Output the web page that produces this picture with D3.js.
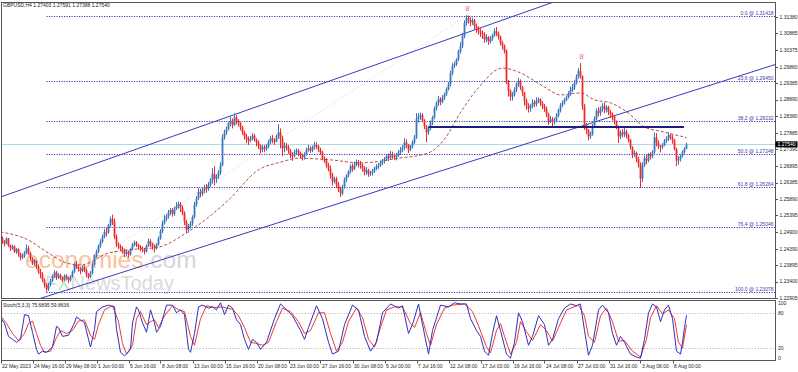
<!DOCTYPE html>
<meta charset="utf-8">
<style>
  body { margin: 0; background: #fff; }
  svg text { font-family: "Liberation Sans", Arial, sans-serif; }
</style>
<script src="https://d3js.org/d3.v7.min.js"></script>
<div id="chart"></div>
<script>

// ---- data (prices written as pips after "1.", e.g. 2472 = 1.2472) ----
var symbolInfo = "GBPUSD,H4  1.27403 1.27591 1.27388 1.27540";
var firstOpen = 2466;

// H4 closes, 6 bars per day, 22 May .. 9 Aug 2023
var close = [
  2472,2460,2455,2470,2448,2440, 2446,2430,2438,2425,2412,2418, 2428,2440,2425,2410,2395,2402, 2385,2370,2362,2345,2330,2318, 2330,2342,2356,2368,2352,2360,
  2352,2345,2358,2350,2344,2356, 2370,2392,2385,2378,2372,2382, 2375,2360,2354,2366,2392,2418, 2430,2448,2460,2475,2490,2488, 2510,2528,2520,2476,2452,2448,
  2440,2432,2424,2430,2422,2438, 2452,2458,2450,2445,2440,2436, 2430,2448,2462,2454,2446,2440, 2452,2470,2492,2516,2528,2538, 2548,2556,2544,2560,2568,2574,
  2562,2548,2520,2496,2508,2515, 2535,2572,2590,2610,2605,2615, 2625,2620,2632,2645,2665,2650, 2658,2668,2690,2775,2790,2800, 2818,2825,2812,2835,2822,2818,
  2805,2790,2778,2770,2765,2772, 2780,2768,2760,2750,2738,2745, 2740,2748,2760,2772,2766,2762, 2778,2790,2772,2742,2750,2745, 2735,2722,2718,2730,2735,2728,
  2722,2715,2725,2738,2742,2735, 2745,2752,2748,2738,2730,2712, 2704,2690,2680,2660,2642,2650, 2632,2618,2606,2625,2648,2660, 2672,2688,2680,2692,2700,2694,
  2690,2682,2670,2676,2664,2668, 2674,2680,2688,2690,2698,2704, 2710,2718,2712,2725,2720,2715, 2722,2730,2738,2744,2760,2752, 2738,2748,2760,2775,2830,2838,
  2842,2826,2808,2790,2802,2820, 2835,2862,2878,2890,2882,2894, 2905,2920,2935,2968,2990,2996, 3010,3035,3050,3080,3120,3135, 3130,3122,3128,3110,3102,3095,
  3090,3085,3070,3078,3064,3072, 3082,3095,3090,3078,3060,3050, 3035,2940,2915,2898,2905,2918, 2935,2945,2925,2910,2885,2872, 2862,2868,2880,2875,2885,2890,
  2878,2870,2862,2845,2825,2830, 2822,2826,2840,2856,2872,2880, 2888,2896,2905,2918,2925,2940, 2958,2975,2960,2870,2812,2798, 2778,2785,2810,2830,2855,2848,
  2862,2870,2858,2866,2852,2845, 2838,2822,2808,2778,2790,2784, 2792,2780,2768,2745,2722,2728, 2710,2695,2650,2690,2712,2705, 2722,2718,2730,2775,2758,2748,
  2745,2752,2765,2770,2782,2775, 2766,2740,2705,2710,2718,2730, 2740.3,2754.0
];
var high = [
  2478,2476,2465,2474,2472,2452, 2452,2450,2442,2440,2428,2424, 2432,2452,2448,2430,2414,2408, 2405,2392,2378,2368,2350,2336, 2336,2348,2362,2374,2372,2366,
  2364,2356,2362,2362,2354,2360, 2374,2398,2402,2392,2384,2388, 2390,2380,2366,2372,2398,2422, 2436,2452,2468,2482,2498,2502, 2514,2536,2542,2530,2482,2458,
  2452,2446,2440,2436,2434,2442, 2456,2464,2462,2454,2450,2446, 2442,2452,2470,2468,2458,2452, 2456,2476,2498,2524,2540,2544, 2556,2562,2562,2566,2580,2582,
  2580,2570,2552,2526,2514,2522, 2540,2580,2598,2622,2620,2624, 2632,2634,2640,2652,2682,2688, 2664,2676,2700,2784,2798,2808, 2822,2838,2832,2848,2842,2830,
  2822,2810,2795,2786,2778,2780, 2788,2786,2772,2766,2754,2752, 2752,2754,2768,2780,2782,2772, 2784,2815,2802,2780,2760,2758, 2752,2740,2730,2738,2742,2740,
  2732,2726,2730,2744,2752,2748, 2750,2762,2760,2752,2744,2734, 2718,2712,2698,2690,2668,2656, 2656,2640,2626,2632,2654,2664, 2676,2694,2696,2702,2708,2706,
  2704,2698,2688,2686,2680,2674, 2680,2686,2694,2698,2704,2710, 2716,2724,2726,2734,2732,2726, 2728,2736,2746,2752,2772,2768, 2755,2752,2766,2782,2848,2848,
  2850,2848,2830,2812,2808,2826, 2840,2868,2884,2900,2896,2902, 2910,2926,2942,2976,3000,3004, 3014,3040,3062,3090,3128,3144, 3142,3138,3136,3132,3118,3110,
  3104,3098,3092,3086,3080,3080, 3088,3104,3108,3094,3082,3066, 3055,3040,2948,2920,2912,2926, 2940,2955,2950,2930,2912,2892, 2878,2876,2890,2888,2896,2896,
  2892,2884,2876,2868,2850,2840, 2836,2834,2848,2862,2878,2886, 2894,2902,2914,2928,2936,2948, 2965,2984,2999,2962,2876,2818, 2800,2792,2816,2838,2862,2866,
  2868,2878,2880,2872,2870,2858, 2850,2842,2826,2810,2796,2800, 2806,2798,2786,2770,2748,2736, 2732,2716,2700,2700,2720,2722, 2728,2730,2736,2790,2788,2766,
  2752,2758,2770,2778,2790,2786, 2782,2770,2744,2718,2724,2736, 2746,2759.1
];
var low = [
  2458,2454,2446,2452,2444,2432, 2436,2426,2424,2415,2404,2408, 2412,2422,2420,2404,2390,2388, 2378,2364,2350,2338,2322,2309, 2312,2326,2338,2350,2345,2348,
  2346,2338,2342,2346,2336,2340, 2352,2366,2378,2370,2362,2368, 2368,2352,2348,2350,2362,2388, 2412,2426,2442,2456,2470,2476, 2484,2504,2510,2468,2444,2438,
  2432,2424,2414,2418,2412,2418, 2434,2446,2444,2436,2432,2428, 2422,2428,2444,2444,2436,2428, 2436,2448,2466,2486,2512,2522, 2530,2540,2536,2538,2556,2560,
  2550,2540,2510,2486,2488,2500, 2508,2530,2566,2586,2594,2598, 2606,2608,2614,2626,2636,2630, 2638,2650,2662,2688,2768,2782, 2796,2808,2802,2810,2814,2808,
  2796,2782,2768,2758,2752,2760, 2766,2762,2748,2740,2726,2730, 2730,2734,2742,2754,2758,2752, 2760,2770,2742,2718,2730,2735, 2725,2712,2704,2714,2722,2718,
  2712,2705,2708,2720,2732,2728, 2730,2738,2740,2730,2722,2706, 2698,2684,2672,2650,2630,2636, 2622,2610,2595,2600,2620,2640, 2654,2666,2672,2676,2688,2684,
  2680,2672,2660,2662,2656,2658, 2660,2668,2676,2680,2686,2692, 2696,2704,2704,2708,2710,2706, 2706,2716,2722,2730,2736,2742, 2728,2734,2742,2755,2770,2820,
  2828,2820,2800,2760,2782,2796, 2812,2830,2856,2870,2872,2878, 2888,2900,2916,2928,2962,2984, 2990,3005,3028,3044,3074,3112, 3118,3110,3114,3100,3090,3084,
  3078,3072,3060,3062,3054,3058, 3066,3078,3080,3070,3052,3040, 3028,2935,2898,2885,2886,2898, 2912,2928,2918,2900,2870,2858, 2850,2852,2862,2866,2868,2878,
  2870,2860,2852,2836,2812,2818, 2806,2814,2820,2836,2850,2866, 2874,2884,2892,2900,2912,2918, 2934,2952,2952,2858,2798,2785, 2766,2770,2780,2804,2826,2838,
  2840,2852,2848,2850,2842,2834, 2826,2814,2800,2758,2770,2776, 2776,2772,2760,2738,2712,2716, 2700,2684,2622,2640,2686,2694, 2700,2708,2712,2726,2748,2740,
  2730,2740,2748,2758,2764,2768, 2756,2735,2688,2692,2702,2714, 2726,2738.8
];

// dashed moving average, [bar, price pips]
var maPoints = [
  [0,2490],[14,2465],[24,2426],[33,2396],[40,2390],[54,2426],[63,2435],[79,2444],[93,2487],[114,2586],
  [129,2677],[140,2700],[149,2712],[165,2707],[180,2698],[199,2712],[214,2728],[222,2770],[230,2850],
  [239,2925],[251,2984],[259,2972],[272,2927],[280,2903],[290,2909],[297,2888],[305,2879],[314,2848],
  [322,2806],[332,2791],[343,2774]
];

// Stoch(5,3,3) main and signal, [bar, value]
var stochMain = [
  [0,72],[2,62],[4,40],[6,35],[8,30],[10,35],[12,77],[14,75],[16,47],[18,18],[19,10],[21,15],[23,13],[26,22],[28,57],[29,55],
  [31,40],[34,42],[37,63],[38,73],[40,68],[42,63],[44,35],[45,22],[47,52],[48,82],[51,90],[54,93],[57,90],[58,52],[60,13],[62,7],
  [63,10],[65,18],[66,63],[68,90],[69,85],[71,63],[73,47],[74,65],[75,85],[77,63],[78,47],[80,57],[83,93],[86,93],[88,80],[90,85],
  [92,77],[94,18],[95,13],[97,45],[99,90],[101,93],[104,88],[106,90],[108,85],[110,97],[112,77],[114,93],[116,88],[118,68],[120,60],
  [122,35],[124,18],[126,35],[128,30],[130,18],[133,30],[137,70],[140,95],[143,85],[146,75],[150,50],[152,35],[154,55],[158,92],
  [161,70],[164,30],[166,10],[169,15],[172,60],[176,93],[179,85],[182,40],[185,15],[188,30],[191,80],[195,95],[199,88],[201,92],
  [204,45],[206,60],[209,95],[211,60],[214,10],[216,50],[220,93],[224,90],[227,97],[230,95],[233,95],[235,70],[238,50],[240,40],
  [242,15],[244,8],[246,45],[248,75],[250,50],[253,10],[255,3],[257,30],[259,80],[261,65],[264,25],[266,40],[269,75],[272,60],
  [274,25],[276,35],[279,70],[282,88],[285,95],[288,92],[290,95],[292,50],[294,8],[296,25],[299,85],[301,93],[304,80],[306,45],
  [308,25],[310,40],[312,30],[315,10],[318,5],[320,3],[322,35],[324,80],[326,95],[328,90],[330,65],[332,85],[334,93],[336,70],
  [338,15],[340,10],[341,30],[342,55],[343,75.6895]
];
var stochSignal = [
  [0,75],[3,62],[6,45],[9,33],[12,45],[14,62],[16,66],[18,45],[20,25],[22,13],[25,15],[28,38],[30,50],[33,45],[36,50],[39,66],
  [42,68],[45,42],[47,35],[49,60],[52,85],[56,92],[59,65],[61,28],[63,10],[66,25],[68,70],[70,82],[73,60],[75,65],[77,68],[79,55],
  [82,75],[86,92],[89,85],[92,82],[95,40],[97,25],[100,70],[103,92],[107,89],[111,90],[113,88],[116,86],[119,75],[122,55],[125,30],
  [128,28],[131,25],[134,30],[138,65],[141,88],[145,82],[149,65],[152,45],[155,50],[159,80],[162,80],[165,45],[168,15],[171,30],
  [174,65],[178,88],[181,72],[184,35],[187,22],[190,55],[193,85],[197,90],[201,90],[205,62],[207,55],[210,80],[213,45],[215,25],
  [218,60],[222,88],[226,93],[232,95],[236,82],[239,58],[243,22],[245,12],[248,50],[250,62],[252,40],[255,10],[258,30],[260,65],
  [263,48],[266,33],[270,60],[273,50],[276,32],[279,55],[283,85],[289,93],[292,75],[294,40],[297,30],[300,75],[303,88],[306,65],
  [309,32],[312,33],[316,15],[320,5],[323,35],[325,72],[328,92],[331,78],[334,85],[337,70],[339,30],[341,20],[343,59.8636]
];
var stochLabel = "Stoch(5,3,3) 75.6895 59.8636";
var stochLevels = [80, 20];
var stochTicks = [100, 80, 20, 0];

// fibonacci retracement
var fibLevels = ["0.0", "23.6", "38.2", "50.0", "61.8", "76.4", "100.0"];
var fibPrices = [1.31418, 1.29450, 1.28232, 1.27248, 1.26264, 1.25046, 1.23078];
var fibAnchor = [[23, 1.23078], [233, 1.31418]];

// trend lines [bar, price]
var upperLine = [[0, 1.2595], [276.5, 1.3183]];
var lowerLine = [[19, 1.22875], [349, 1.2921]];
var supportLine = [[214, 1.2806], [341.8, 1.2806]];
var lastPrice = 1.27540;
var peakMarks = [233, 290];

// axes
var priceTicks = [1.31380, 1.30885, 1.30375, 1.29880, 1.29385, 1.28890, 1.28380, 1.27885, 1.27390,
                  1.26895, 1.26385, 1.25890, 1.25395, 1.24900, 1.24390, 1.23895, 1.23400, 1.22905];
var timeBars = [0, 16, 32, 48, 64, 80, 96, 112, 128, 144, 160, 176, 192, 208, 224, 240, 256, 272, 288, 304, 320, 336];
var timeLabels = ["22 May 2023", "24 May 16:00", "29 May 08:00", "1 Jun 00:00", "5 Jun 16:00", "8 Jun 08:00",
                  "13 Jun 00:00", "15 Jun 16:00", "20 Jun 08:00", "23 Jun 00:00", "27 Jun 16:00", "30 Jun 08:00",
                  "5 Jul 00:00", "7 Jul 16:00", "12 Jul 08:00", "17 Jul 00:00", "19 Jul 16:00", "24 Jul 08:00",
                  "27 Jul 00:00", "31 Jul 16:00", "3 Aug 08:00", "8 Aug 00:00"];

// ---- drawing ----
var P = function(v) { return 1 + v / 10000; };
var W = 798, H = 372;
var left = 1.5, right = 775.5, mainTop = 2.5, mainBottom = 298.5, stTop = 300.5, stBottom = 360.5;

var svg = d3.select("#chart").append("svg")
    .attr("width", W).attr("height", H);

var x = d3.scaleLinear().domain([0, 387]).range([0.5, 774.5]);
var y = d3.scaleLinear().domain([1.22905, 1.31380]).range([298, 17]);
var ys = d3.scaleLinear().domain([0, 100]).range([360, 301]);

var defs = svg.append("defs");
defs.append("clipPath").attr("id", "clipMain").append("rect")
    .attr("x", left).attr("y", mainTop).attr("width", right - left).attr("height", mainBottom - mainTop);
defs.append("clipPath").attr("id", "clipStoch").append("rect")
    .attr("x", left).attr("y", stTop).attr("width", right - left).attr("height", stBottom - stTop);

var main = svg.append("g").attr("clip-path", "url(#clipMain)");

// watermark
var wm = main.append("g");
var t1 = wm.append("text").attr("x", 25).attr("y", 268).style("font-size", "24.5px");
t1.append("tspan").attr("fill", "#f9c29c").text("economies");
t1.append("tspan").attr("fill", "#d6d6d6").text(".com");
var t2 = wm.append("text").attr("x", 45).attr("y", 290).style("font-size", "20px").attr("fill", "#dadada");
t2.append("tspan").text("F");
t2.append("tspan").attr("fill", "#c4e2c4").text("X");
t2.append("tspan").text("NewsToday");

// fib diagonal
main.append("line")
    .attr("x1", x(fibAnchor[0][0])).attr("y1", y(fibAnchor[0][1]))
    .attr("x2", x(fibAnchor[1][0])).attr("y2", y(fibAnchor[1][1]))
    .attr("stroke", "#c8c8c8").attr("stroke-dasharray", "1,2").attr("stroke-width", 0.8);

// fib levels
main.selectAll(".fib").data(fibPrices).enter().append("line")
    .attr("x1", x(fibAnchor[0][0])).attr("x2", right)
    .attr("y1", function(d) { return Math.round(y(d)) + 0.5; })
    .attr("y2", function(d) { return Math.round(y(d)) + 0.5; })
    .attr("stroke", "#3b3ba8").attr("stroke-width", 1).attr("stroke-dasharray", "1.2,1.3");
main.selectAll(".fibl").data(fibPrices).enter().append("text")
    .attr("x", right - 2)
    .attr("y", function(d) { return Math.round(y(d)) - 0.8; })
    .attr("text-anchor", "end")
    .attr("fill", "#3b3ba8")
    .style("font-size", "5px")
    .text(function(d, i) { return fibLevels[i] + " @ " + d.toFixed(5); });

// current price line
main.append("line")
    .attr("x1", left).attr("x2", right)
    .attr("y1", Math.round(y(lastPrice)) + 0.5).attr("y2", Math.round(y(lastPrice)) + 0.5)
    .attr("stroke", "#a9d9ea").attr("stroke-width", 1);

// trend lines
function extend(pts, b0, b1) {
  var s = (pts[1][1] - pts[0][1]) / (pts[1][0] - pts[0][0]);
  return [[b0, pts[0][1] + s * (b0 - pts[0][0])], [b1, pts[0][1] + s * (b1 - pts[0][0])]];
}
var lineGen = d3.line().x(function(d) { return x(d[0]); }).y(function(d) { return y(d[1]); });
main.append("path").attr("d", lineGen(extend(upperLine, -2, 390)))
    .attr("fill", "none").attr("stroke", "#3a3ab8").attr("stroke-width", 1);
main.append("path").attr("d", lineGen(extend(lowerLine, -2, 390)))
    .attr("fill", "none").attr("stroke", "#3a3ab8").attr("stroke-width", 1);

// moving average
main.append("path")
    .attr("d", d3.line().curve(d3.curveMonotoneX)
      .x(function(d) { return x(d[0]); }).y(function(d) { return y(P(d[1])); })(maPoints))
    .attr("fill", "none").attr("stroke", "#a83a3a").attr("stroke-width", 0.9)
    .attr("stroke-dasharray", "3,2");

// candles
var bars = close.map(function(c, i) {
  var o = i === 0 ? firstOpen : close[i - 1];
  return { i: i, o: P(o), c: P(c), h: P(Math.max(high[i], o, c)), l: P(Math.min(low[i], o, c)) };
});
var upCol = "#3a76c0", dnCol = "#ee2b2b";
var cg = main.append("g");
cg.selectAll(".wick").data(bars).enter().append("line")
    .attr("x1", function(d) { return x(d.i); }).attr("x2", function(d) { return x(d.i); })
    .attr("y1", function(d) { return y(d.h); }).attr("y2", function(d) { return y(d.l); })
    .attr("stroke", function(d) { return d.c >= d.o ? upCol : dnCol; })
    .attr("stroke-width", 1);
cg.selectAll(".body").data(bars).enter().append("rect")
    .attr("x", function(d) { return x(d.i) - 0.9; })
    .attr("width", 1.8)
    .attr("y", function(d) { return y(Math.max(d.o, d.c)); })
    .attr("height", function(d) { return Math.max(1, Math.abs(y(d.o) - y(d.c))); })
    .attr("fill", function(d) { return d.c >= d.o ? upCol : dnCol; });

// support line
main.append("path").attr("d", lineGen(supportLine))
    .attr("stroke", "#1e1e7a").attr("stroke-width", 2).attr("fill", "none");

// peak marks
main.selectAll(".mark").data(peakMarks).enter().append("text")
    .attr("x", function(d) { return x(d) + 1; })
    .attr("y", function(d) { return y(bars[d].h) - 4; })
    .attr("text-anchor", "middle")
    .attr("fill", "#e8706a")
    .style("font-size", "8px")
    .text("8");

// header
svg.append("text").attr("x", 3).attr("y", 7).style("font-size", "5px").attr("fill", "#222").text(symbolInfo);

// stoch panel
var st = svg.append("g").attr("clip-path", "url(#clipStoch)");
st.selectAll(".lvl").data(stochLevels).enter().append("line")
    .attr("x1", left).attr("x2", right)
    .attr("y1", function(d) { return Math.round(ys(d)) + 0.5; })
    .attr("y2", function(d) { return Math.round(ys(d)) + 0.5; })
    .attr("stroke", "#b8b8b8").attr("stroke-dasharray", "1.5,1.5").attr("stroke-width", 0.8);
var sLine = d3.line().x(function(d) { return x(d[0]); }).y(function(d) { return ys(d[1]); });
st.append("path").attr("d", sLine(stochSignal))
    .attr("fill", "none").attr("stroke", "#f03838").attr("stroke-width", 1);
st.append("path").attr("d", sLine(stochMain))
    .attr("fill", "none").attr("stroke", "#3030b8").attr("stroke-width", 1);
svg.append("text").attr("x", 3).attr("y", 307).style("font-size", "5px").attr("fill", "#222").text(stochLabel);

// frames
svg.append("rect").attr("x", left).attr("y", mainTop).attr("width", right - left).attr("height", mainBottom - mainTop)
    .attr("fill", "none").attr("stroke", "#555").attr("stroke-width", 1);
svg.append("rect").attr("x", left).attr("y", stTop).attr("width", right - left).attr("height", stBottom - stTop)
    .attr("fill", "none").attr("stroke", "#555").attr("stroke-width", 1);

// price axis
var pa = svg.append("g");
pa.selectAll(".tk").data(priceTicks).enter().append("line")
    .attr("x1", right).attr("x2", right + 2.5)
    .attr("y1", function(d) { return Math.round(y(d)) + 0.5; })
    .attr("y2", function(d) { return Math.round(y(d)) + 0.5; })
    .attr("stroke", "#555");
pa.selectAll(".tl").data(priceTicks).enter().append("text")
    .attr("x", right + 4).attr("y", function(d) { return y(d) + 1.8; })
    .style("font-size", "5px").attr("fill", "#222")
    .text(function(d) { return d.toFixed(5); });
pa.append("rect").attr("x", right).attr("y", y(lastPrice) - 3).attr("width", 22).attr("height", 6).attr("fill", "#000");
pa.append("text").attr("x", right + 2).attr("y", y(lastPrice) + 1.8)
    .style("font-size", "5px").attr("fill", "#fff").text(lastPrice.toFixed(5));

// stoch axis
svg.selectAll(".stl").data(stochTicks).enter().append("text")
    .attr("x", right + 2.5).attr("y", function(d) { return ys(d) + (d === 100 ? 3.5 : d === 0 ? -0.5 : 1.8); })
    .style("font-size", "5px").attr("fill", "#222")
    .text(function(d) { return d; });

// time axis
var ta = svg.append("g");
ta.selectAll(".ttk").data(timeBars).enter().append("line")
    .attr("x1", function(d) { return Math.round(x(d)) + 0.5; }).attr("x2", function(d) { return Math.round(x(d)) + 0.5; })
    .attr("y1", stBottom).attr("y2", stBottom + 3)
    .attr("stroke", "#555");
ta.selectAll(".ttl").data(timeBars).enter().append("text")
    .attr("x", function(d) { return x(d) + 1.5; }).attr("y", 368)
    .style("font-size", "5px").attr("fill", "#222")
    .text(function(d, i) { return timeLabels[i]; });

</script>
